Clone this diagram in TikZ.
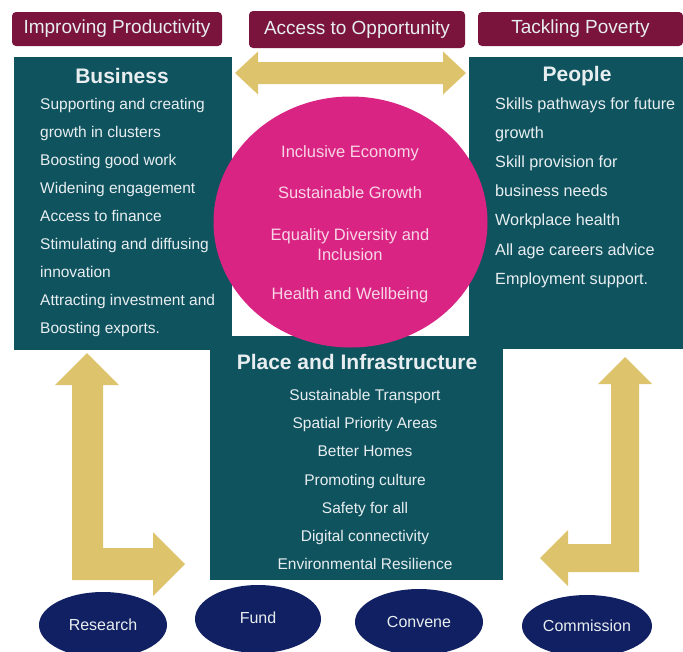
\documentclass[tikz,border=0pt]{standalone}
\usepackage{fontspec}
\setmainfont{Liberation Sans}
\usetikzlibrary{shapes.geometric}

\definecolor{tagred}{RGB}{122,20,60}
\definecolor{panelteal}{RGB}{15,83,95}
\definecolor{arrowgold}{RGB}{220,195,108}
\definecolor{corepink}{RGB}{218,36,131}
\definecolor{ovalnavy}{RGB}{16,32,98}
\definecolor{paletext}{RGB}{232,238,240}
\definecolor{pinktext}{RGB}{247,214,230}

\tikzset{
    tag/.style={fill=tagred, rounded corners=4pt, text=paletext,
        font=\fontsize{19}{21}\selectfont, inner sep=0pt},
    panel/.style={fill=panelteal, inner sep=0pt},
    heading/.style={text=paletext, font=\bfseries\fontsize{21}{24}\selectfont, inner sep=0pt},
    item/.style={text=paletext, font=\fontsize{15.5}{18}\selectfont, inner sep=0pt},
    coreitem/.style={text=pinktext, font=\fontsize{16.5}{20}\selectfont, inner sep=0pt, align=center},
    oval/.style={ellipse, fill=ovalnavy, inner sep=0pt, text=paletext,
        font=\fontsize{16}{18}\selectfont},
    block/.style={fill=arrowgold}
}

\begin{document}
\begin{tikzpicture}[x=1pt, y=-1pt]
    \useasboundingbox (0,0) rectangle (683,651);

    % Top themes
    \node[tag, minimum width=210pt, minimum height=34pt] (prod) at (117,29) {Improving Productivity};
    \node[tag, minimum width=216pt, minimum height=37pt] (access) at (357,29.5) {Access to Opportunity};
    \node[tag, minimum width=205pt, minimum height=34pt] (poverty) at (580.5,29) {Tackling Poverty};

    % Side panels
    \node[panel, anchor=north west, minimum width=218pt, minimum height=293pt] (business) at (14,57) {};
    \node[panel, anchor=north west, minimum width=214pt, minimum height=292pt] (people) at (469,57) {};

    % Double arrow between the panels
    \fill[block] (235,73) -- (258,51.5) -- (258,62) -- (443,62) -- (443,51.5)
        -- (466,73) -- (443,94.5) -- (443,84) -- (258,84) -- (258,94.5) -- cycle;

    % L-shaped arrows down to the ovals
    \fill[block] (87,353) -- (119,385) -- (103,385) -- (103,548) -- (153,548)
        -- (153,532) -- (185,564) -- (153,596) -- (153,580) -- (72,580)
        -- (72,385) -- (55,385) -- cycle;
    \fill[block] (625,357) -- (652,384) -- (639,384) -- (639,572) -- (568,572)
        -- (568,586) -- (540,558) -- (568,530) -- (568,544) -- (611,544)
        -- (611,384) -- (598,384) -- cycle;

    % Place panel and central circle
    \node[panel, anchor=north west, minimum width=293pt, minimum height=244pt] (place) at (210,336) {};
    \node[ellipse, fill=corepink, inner sep=0pt, minimum width=274pt, minimum height=251pt] (core) at (350.5,222) {};

    % Business
    \node[heading] (bizhead) at (122,76) {Business};
    \foreach \t [count=\i] in {Supporting and creating, growth in clusters,
        Boosting good work, Widening engagement, Access to finance,
        Stimulating and diffusing, innovation, Attracting investment and,
        Boosting exports.}
        \node[item, anchor=base west] (biz\i) at (40,{109+28*(\i-1)}) {\t};

    % People
    \node[heading] (pplhead) at (577,76) {People};
    \foreach \t [count=\i] in {Skills pathways for future, growth,
        Skill provision for, business needs, Workplace health,
        All age careers advice, Employment support.}
        \node[item, font=\fontsize{16.2}{18}\selectfont, anchor=base west] (ppl\i) at (495,{109.5+29.1*(\i-1)}) {\t};

    % Place and Infrastructure
    \node[heading] (placehead) at (357,362) {Place and Infrastructure};
    \foreach \t [count=\i] in {Sustainable Transport, Spatial Priority Areas,
        Better Homes, Promoting culture, Safety for all,
        Digital connectivity, Environmental Resilience}
        \node[item, anchor=base] (plc\i) at (365,{395+28.15*(\i-1)+5.6}) {\t};

    % Circle labels
    \node[coreitem] (econ) at (350,153) {Inclusive Economy};
    \node[coreitem] (growth) at (350,193) {Sustainable Growth};
    \node[coreitem] (equality) at (350,244.5) {Equality Diversity and\\Inclusion};
    \node[coreitem] (health) at (350,295) {Health and Wellbeing};

    % Ovals
    \node[oval, minimum width=128pt, minimum height=66pt] (research) at (103,625) {Research};
    \node[oval, minimum width=126pt, minimum height=68pt] (fund) at (258,619) {\raisebox{3pt}{Fund}};
    \node[oval, minimum width=128pt, minimum height=66pt] (convene) at (419,622) {Convene};
    \node[oval, minimum width=130pt, minimum height=62pt] (commission) at (587,626) {Commission};
\end{tikzpicture}
\end{document}
